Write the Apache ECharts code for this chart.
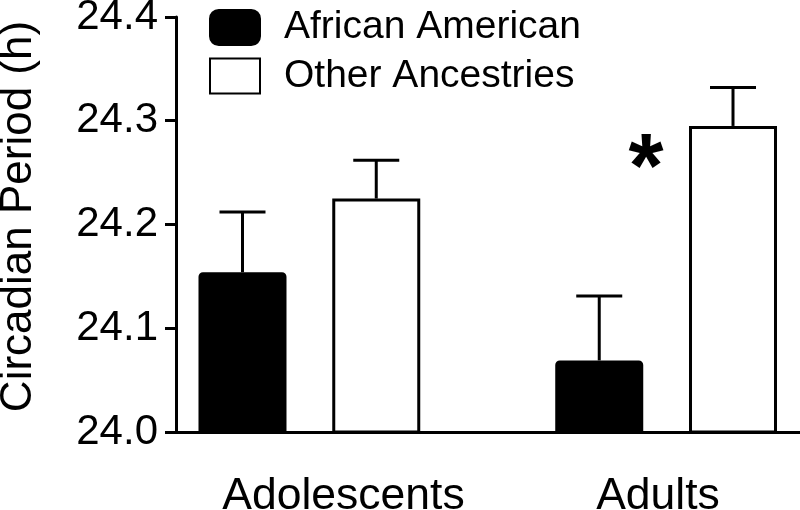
<!DOCTYPE html>
<html>
<head>
<meta charset="utf-8">
<script src="https://cdn.jsdelivr.net/npm/echarts@6/dist/echarts.min.js"></script>
<style>html,body{margin:0;padding:0;background:#fff}#c{width:800px;height:510px}</style>
</head>
<body>
<div id="c"></div>
<script>
// ---- data ----
const categories = ['Adolescents', 'Adults'];
const seriesNames = ['African American', 'Other Ancestries'];
const africanAmerican = [24.154, 24.069];
const africanAmericanUpper = [24.212, 24.131];
const otherAncestries = [24.225, 24.295];
const otherAncestriesUpper = [24.262, 24.332];
const significance = ['', '*'];
const yTicks = [24.0, 24.1, 24.2, 24.3, 24.4];

// ---- style constants ----
const FONT = '"Liberation Sans", Arial, Helvetica, sans-serif';
const BAR_W = 88, BAR_GAP = 0.52, LW = 3, CAP_HALF = 23;
const yMin = yTicks[0], yMax = yTicks[yTicks.length - 1];

const chart = echarts.init(document.getElementById('c'), null, {renderer: 'canvas'});

function errorSeries(means, uppers, sign) {
  return {
    type: 'custom',
    xAxisIndex: 1, yAxisIndex: 1, z: 5, clip: false,
    data: means.map((m, i) => [i, m, uppers[i]]),
    renderItem(params, api) {
      const p0 = api.coord([api.value(0), api.value(1)]);
      const p1 = api.coord([api.value(0), api.value(2)]);
      const x = p0[0] + sign * BAR_W * (1 + BAR_GAP) / 2;
      const st = {stroke: '#000', lineWidth: LW};
      return {type: 'group', children: [
        {type: 'line', shape: {x1: x, y1: p0[1], x2: x, y2: p1[1]}, style: st},
        {type: 'line', shape: {x1: x - CAP_HALF, y1: p1[1], x2: x + CAP_HALF, y2: p1[1]}, style: st}
      ]};
    }
  };
}

const hiddenY = (i) => ({type: 'value', gridIndex: i, min: yMin, max: yMax, show: false});

chart.setOption({
  animation: false,
  backgroundColor: '#fff',
  textStyle: {fontFamily: FONT, color: '#000'},
  grid: [
    {left: 176, right: 0, top: 17, bottom: 78, outerBoundsMode: 'none', containLabel: false},
    {left: 131, width: 713.5, top: 17, bottom: 78, outerBoundsMode: 'none', containLabel: false},
    {left: 343.5, width: 314.5, top: 17, bottom: 78, outerBoundsMode: 'none', containLabel: false}
  ],
  legend: {
    orient: 'vertical', left: 209, top: 7.5, padding: 0,
    itemWidth: 50, itemHeight: 35, itemGap: 8.5,
    data: [
      {name: seriesNames[0], icon: 'roundRect'},
      {name: seriesNames[1], icon: 'rect'}
    ],
    textStyle: {fontFamily: FONT, fontSize: 39, lineHeight: 40, color: '#000', padding: [0, 0, 0, 19]},
    selectedMode: false
  },
  xAxis: [
    {type: 'category', gridIndex: 0, data: categories,
     axisLine: {show: true, lineStyle: {color: '#000', width: LW}},
     axisTick: {show: false}, axisLabel: {show: false}},
    {type: 'category', gridIndex: 1, data: categories, show: false},
    {type: 'category', gridIndex: 2, data: categories, boundaryGap: false,
     axisLine: {show: false}, axisTick: {show: false},
     axisLabel: {fontFamily: FONT, fontSize: 44.5, color: '#000', margin: 42,
                 interval: 0, showMinLabel: true, showMaxLabel: true, hideOverlap: false}}
  ],
  yAxis: [
    {type: 'value', gridIndex: 0, min: yMin, max: yMax, interval: 0.1,
     name: 'Circadian Period (h)', nameLocation: 'middle', nameGap: 135, nameRotate: 90,
     nameTextStyle: {fontFamily: FONT, fontSize: 44, color: '#000', padding: [0, 0, 0, 16]},
     axisLine: {show: true, lineStyle: {color: '#000', width: LW}},
     axisTick: {show: true, length: 11, lineStyle: {color: '#000', width: LW}},
     axisLabel: {fontFamily: FONT, fontSize: 42, color: '#000', margin: 18,
                 formatter: v => v.toFixed(1)},
     splitLine: {show: false}},
    hiddenY(1), hiddenY(2)
  ],
  series: [
    {name: seriesNames[0], type: 'bar', xAxisIndex: 1, yAxisIndex: 1,
     barWidth: BAR_W, barGap: (BAR_GAP * 100) + '%',
     itemStyle: {color: '#000', borderColor: '#000', borderWidth: LW, borderRadius: [3, 3, 0, 0]},
     data: africanAmerican},
    {name: seriesNames[1], type: 'bar', xAxisIndex: 1, yAxisIndex: 1,
     barWidth: BAR_W, barGap: (BAR_GAP * 100) + '%',
     itemStyle: {color: '#fff', borderColor: '#000', borderWidth: LW},
     data: otherAncestries.map((v, i) => significance[i] ? {
       value: v,
       label: {show: true, formatter: significance[i], position: [-43, 46],
               align: 'center', verticalAlign: 'middle',
               fontFamily: FONT, fontWeight: 'bold', fontSize: 90, color: '#000'}
     } : v)},
    errorSeries(africanAmerican, africanAmericanUpper, -1),
    errorSeries(otherAncestries, otherAncestriesUpper, 1)
  ]
});
</script>
</body>
</html>
